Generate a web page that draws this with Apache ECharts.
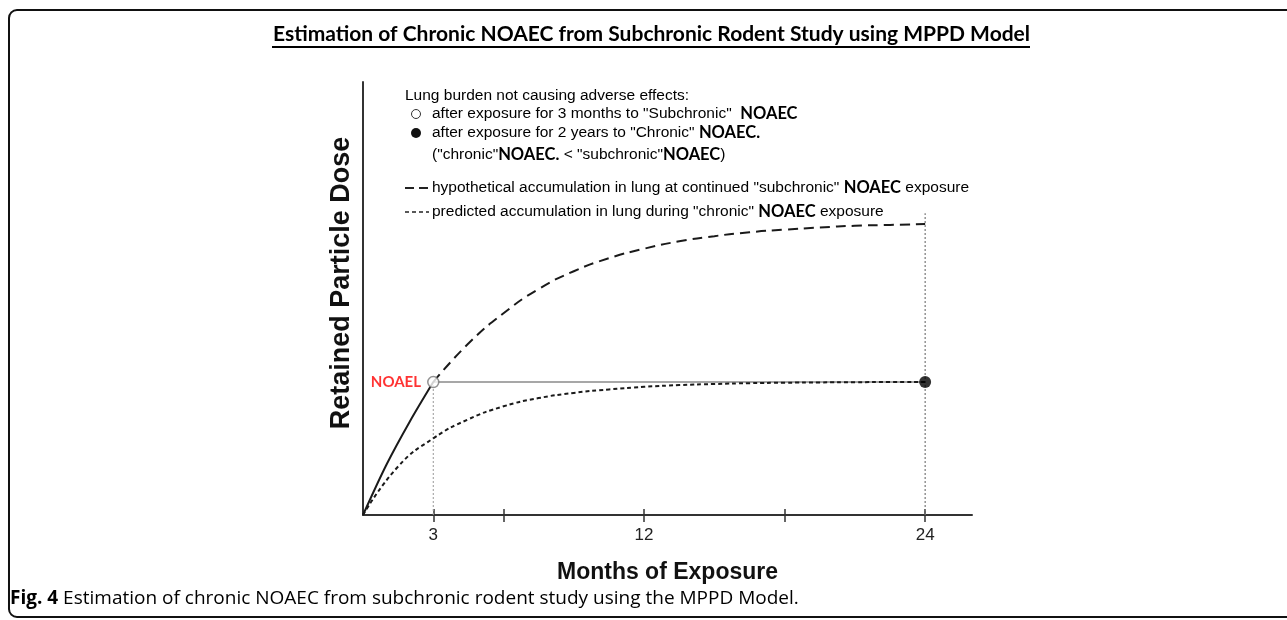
<!DOCTYPE html>
<html><head><meta charset="utf-8">
<script src="https://cdn.jsdelivr.net/npm/echarts@6/dist/echarts.min.js"></script>
<style>html,body{margin:0;padding:0;background:#fff}#c{width:1287px;height:620px}</style>
</head><body><div id="c"></div>
<script>
// ---- data ----
const titleText = 'Estimation of Chronic NOAEC from Subchronic Rodent Study using MPPD Model';
const xAxisName = 'Months of Exposure';
const yAxisName = 'Retained Particle Dose';
const xTickValues = [3, 6, 12, 18, 24];
const xLabelValues = [3, 12, 24];
const noael = [3, 30.7];
const chronicPoint = [24, 30.7];
const solidSubchronic = [[0, 0], [1, 11.6], [2, 21.6], [3, 30.7]];
const hypotheticalDashed = [[3, 30.7], [4.5, 39.6], [6, 46.6], [7.5, 52.2], [9, 56.3], [10.5, 59.3], [12, 61.5], [13.5, 63.2], [15, 64.4], [16.5, 65.3], [18, 65.9], [19.5, 66.4], [21, 66.8], [22.5, 67.0], [24, 67.2]];
const predictedDotted = [[0, 0], [1.5, 11.2], [3, 17.7], [4.5, 22.1], [6, 25.1], [7.5, 27.0], [9, 28.2], [10.5, 29.0], [12, 29.6], [13.5, 30.0], [15, 30.25], [16.5, 30.45], [18, 30.55], [19.5, 30.62], [21, 30.67], [22.5, 30.7], [24, 30.7]];
const horizontalRef = [[3, 30.7], [24, 30.7]];
const vertical3 = [[3, 0], [3, 30.7]];
const vertical24 = [[24, 0], [24, 69.7]];
const legendLines = [
  'Lung burden not causing adverse effects:',
  'after exposure for 3 months to "Subchronic"  ',
  'after exposure for 2 years to "Chronic" ',
  '("chronic"',
  'hypothetical accumulation in lung at continued "subchronic" ',
  'predicted accumulation in lung during "chronic" '
];
const captionBold = 'Fig. 4';
const captionText = ' Estimation of chronic NOAEC from subchronic rodent study using the MPPD Model.';

const chart = echarts.init(document.getElementById('c'));
const txtFont = '"Liberation Sans", Arial, sans-serif';
const calFont = 'Lato, "Open Sans", sans-serif';
const rich = {
  t: { fontFamily: txtFont, fontSize: 15.5, color: '#2a2a2a' },
  b: { fontFamily: calFont, fontSize: 16.5, fontWeight: 'bold', color: '#111' }
};
function legendText(x, y, text) {
  return { type: 'text', left: x, top: y, style: { text: text, rich: rich } };
}
const grid = { left: 363, top: 82, width: 609, height: 433 };

chart.setOption({
  animation: false,
  backgroundColor: '#fff',
  grid: grid,
  xAxis: [{
    type: 'value', min: 0, max: 26,
    axisLine: { lineStyle: { color: '#333', width: 2 } },
    axisTick: { show: true, customValues: xTickValues, length: 7, lineStyle: { color: '#333', width: 1.5 } },
    axisLabel: { customValues: xLabelValues, fontFamily: txtFont, fontSize: 17, color: '#222', margin: 12 },
    splitLine: { show: false },
    name: xAxisName, nameLocation: 'middle', nameGap: 46,
    nameTextStyle: { fontFamily: txtFont, fontSize: 23, fontWeight: 'bold', color: '#111' }
  }, {
    type: 'value', min: 0, max: 26, position: 'bottom',
    axisLine: { show: false },
    axisTick: { show: true, inside: true, customValues: xTickValues, length: 6, lineStyle: { color: '#333', width: 1.5 } },
    axisLabel: { show: false }, splitLine: { show: false }
  }],
  yAxis: {
    type: 'value', min: 0, max: 100,
    axisLine: { show: true, lineStyle: { color: '#333', width: 2 } },
    axisTick: { show: false }, axisLabel: { show: false }, splitLine: { show: false },
    name: yAxisName, nameLocation: 'middle', nameGap: 8, nameRotate: 90,
    nameTextStyle: { fontFamily: txtFont, fontSize: 27, fontWeight: 'bold', color: '#111', padding: [0, 0, 0, 31] }
  },
  series: [
    { type: 'line', data: horizontalRef, symbol: 'none', lineStyle: { color: '#8a8a8a', width: 1.5 }, z: 2 },
    { type: 'line', data: vertical3, symbol: 'none', lineStyle: { color: '#999', width: 1, type: [2, 2] }, z: 2 },
    { type: 'line', data: vertical24, symbol: 'none', lineStyle: { color: '#777', width: 1.2, type: [2, 2] }, z: 2 },
    { type: 'line', data: solidSubchronic, symbol: 'none', smooth: 0.3, lineStyle: { color: '#1a1a1a', width: 2 }, z: 3 },
    { type: 'line', data: hypotheticalDashed, symbol: 'none', smooth: 0.5, lineStyle: { color: '#1a1a1a', width: 2, type: [10, 6] }, z: 3 },
    { type: 'line', data: predictedDotted, symbol: 'none', smooth: 0.5, lineStyle: { color: '#1a1a1a', width: 2, type: [4, 3] }, z: 3 },
    { type: 'scatter', data: [noael], symbol: 'circle', symbolSize: 11,
      itemStyle: { color: '#fff', borderColor: '#777', borderWidth: 1.5 }, z: 5,
      label: { show: true, position: 'left', distance: 6, formatter: 'NOAEL', fontFamily: calFont, fontWeight: 'bold', fontSize: 15, color: '#ff0000' } },
    { type: 'scatter', data: [chronicPoint], symbol: 'circle', symbolSize: 12, itemStyle: { color: '#000' }, z: 5 }
  ],
  graphic: [
    { type: 'rect', shape: { x: 9, y: 10, width: 1300, height: 607, r: 8 }, style: { fill: 'none', stroke: '#111', lineWidth: 2 }, silent: true },
    { type: 'text', left: 273, top: 24, style: { text: titleText, fontFamily: calFont, fontWeight: 'bold', fontSize: 21, fill: '#000' } },
    { type: 'line', shape: { x1: 272, y1: 47, x2: 1030, y2: 47 }, style: { stroke: '#000', lineWidth: 2 } },
    legendText(405, 88, '{t|' + legendLines[0] + '}'),
    { type: 'circle', shape: { cx: 416, cy: 114, r: 4.5 }, style: { fill: '#fff', stroke: '#333', lineWidth: 1 } },
    legendText(432, 105, '{t|' + legendLines[1] + '}{b|NOAEC}'),
    { type: 'circle', shape: { cx: 416, cy: 133, r: 5 }, style: { fill: '#111' } },
    legendText(432, 124, '{t|' + legendLines[2] + '}{b|NOAEC.}'),
    legendText(432, 146, '{t|' + legendLines[3] + '}{b|NOAEC.}{t| < "subchronic"}{b|NOAEC}{t|)}'),
    { type: 'line', shape: { x1: 405, y1: 188, x2: 430, y2: 188 }, style: { stroke: '#222', lineWidth: 2, lineDash: [9, 5] } },
    legendText(432, 179, '{t|' + legendLines[4] + '}{b|NOAEC}{t| exposure}'),
    { type: 'line', shape: { x1: 405, y1: 212, x2: 429, y2: 212 }, style: { stroke: '#222', lineWidth: 1.5, lineDash: [4, 3] } },
    legendText(432, 203, '{t|' + legendLines[5] + '}{b|NOAEC}{t| exposure}'),
    { type: 'text', left: 10, top: 589, style: {
      text: '{b|' + captionBold + '}{t|' + captionText + '}',
      rich: {
        b: { fontFamily: '"Open Sans", sans-serif', fontWeight: 'bold', fontSize: 19, color: '#222' },
        t: { fontFamily: '"Open Sans", sans-serif', fontSize: 19, color: '#222' }
      } } }
  ]
});
</script></body></html>
